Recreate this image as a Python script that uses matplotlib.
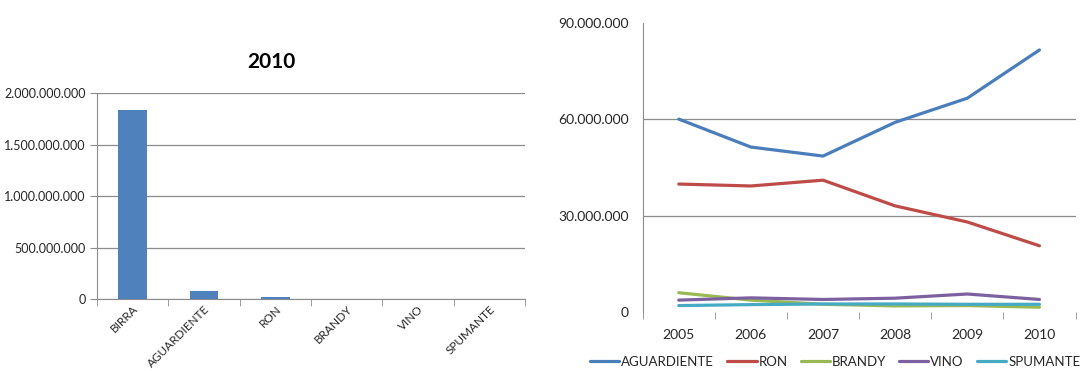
import matplotlib
matplotlib.use("Agg")
import matplotlib.pyplot as plt
from matplotlib.ticker import FuncFormatter

plt.rcParams['font.family'] = ['Lato', 'DejaVu Sans']

# 2010 volume by product
productos = ["BIRRA", "AGUARDIENTE", "RON", "BRANDY", "VINO", "SPUMANTE"]
volumen_2010 = [1835000000, 81500000, 20600000, 1500000, 3900000, 2400000]

# yearly series
anios = ["2005", "2006", "2007", "2008", "2009", "2010"]
aguardiente = [60000000, 51300000, 48500000, 59000000, 66500000, 81500000]
ron = [39800000, 39200000, 41000000, 33000000, 28000000, 20600000]
brandy = [6000000, 3700000, 2400000, 1900000, 2000000, 1500000]
vino = [3700000, 4400000, 3900000, 4300000, 5600000, 3900000]
spumante = [2000000, 2300000, 2500000, 2500000, 2400000, 2400000]

series = [
    ("AGUARDIENTE", aguardiente, "#4A7EBB"),
    ("RON", ron, "#BE4B48"),
    ("BRANDY", brandy, "#98B954"),
    ("VINO", vino, "#7D60A0"),
    ("SPUMANTE", spumante, "#46AAC5"),
]


def puntos(v, pos):
    # thousands separated with dots
    return f"{int(v):,}".replace(",", ".")


fig = plt.figure(figsize=(10.82, 3.71), dpi=100)
grid_c = "#8c8c8c"
txt_c = "#262626"

# --- bar chart ---
ax1 = fig.add_axes([0.0896, 0.194, 0.3956, 0.555])
x = range(len(productos))
ax1.bar(x, volumen_2010, width=0.4, color="#4F81BD", zorder=3)
ax1.set_xlim(-0.5, len(productos) - 0.5)
ax1.set_ylim(0, 2000000000)
ax1.set_yticks([0, 500000000, 1000000000, 1500000000, 2000000000])
ax1.yaxis.set_major_formatter(FuncFormatter(puntos))
ax1.yaxis.grid(True, color=grid_c, linewidth=0.9, zorder=0)
ax1.set_xticks(list(x))
ax1.set_xticklabels(productos, rotation=45, ha="right", rotation_mode="anchor",
                    fontsize=8.5, color=txt_c)
ax1.set_xticks([i - 0.5 for i in range(len(productos) + 1)], minor=True)
ax1.tick_params(axis="x", which="major", length=0, pad=3)
ax1.tick_params(axis="x", which="minor", length=5, color=grid_c)
ax1.tick_params(axis="y", length=5, color=grid_c, labelsize=9, labelcolor=txt_c, pad=3)
for s in ["top", "right"]:
    ax1.spines[s].set_visible(False)
ax1.spines["left"].set_color(grid_c)
ax1.spines["bottom"].set_color(grid_c)
fig.text(0.251, 0.833, "2010", ha="center", va="center", fontsize=15,
         fontweight="bold", color="black")

# --- line chart ---
ax2 = fig.add_axes([0.594, 0.159, 0.400, 0.780])
for nombre, vals, color in series:
    ax2.plot(range(len(anios)), vals, color=color, linewidth=2.3,
             label=nombre, solid_capstyle="round")
ax2.set_xlim(-0.5, len(anios) - 0.5)
ax2.set_ylim(0, 90000000)
ax2.set_yticks([0, 30000000, 60000000, 90000000])
ax2.yaxis.set_major_formatter(FuncFormatter(puntos))
ax2.yaxis.grid(True, color=grid_c, linewidth=0.9)
gl = ax2.get_ygridlines()
gl[0].set_visible(False)
gl[-1].set_visible(False)
ax2.set_xticks(range(len(anios)))
ax2.set_xticklabels(anios, fontsize=10, color=txt_c)
ax2.set_xticks([i - 0.5 for i in range(len(anios) + 1)], minor=True)
ax2.tick_params(axis="x", which="major", length=0, pad=12)
ax2.tick_params(axis="x", which="minor", length=5, color=grid_c)
ax2.tick_params(axis="y", length=0, labelsize=10, labelcolor=txt_c, pad=10)
for s in ["top", "right", "bottom"]:
    ax2.spines[s].set_visible(False)
ax2.spines["left"].set_color(grid_c)
ax2.spines["left"].set_bounds(0, 90000000)
ax2.legend(loc="center", bbox_to_anchor=(0.772, 0.025), bbox_transform=fig.transFigure,
           ncol=5, frameon=False, fontsize=9.5, handlelength=2.2, handletextpad=0.15,
           columnspacing=1.0, labelcolor=txt_c)

fig.savefig("out.png", dpi=100)
